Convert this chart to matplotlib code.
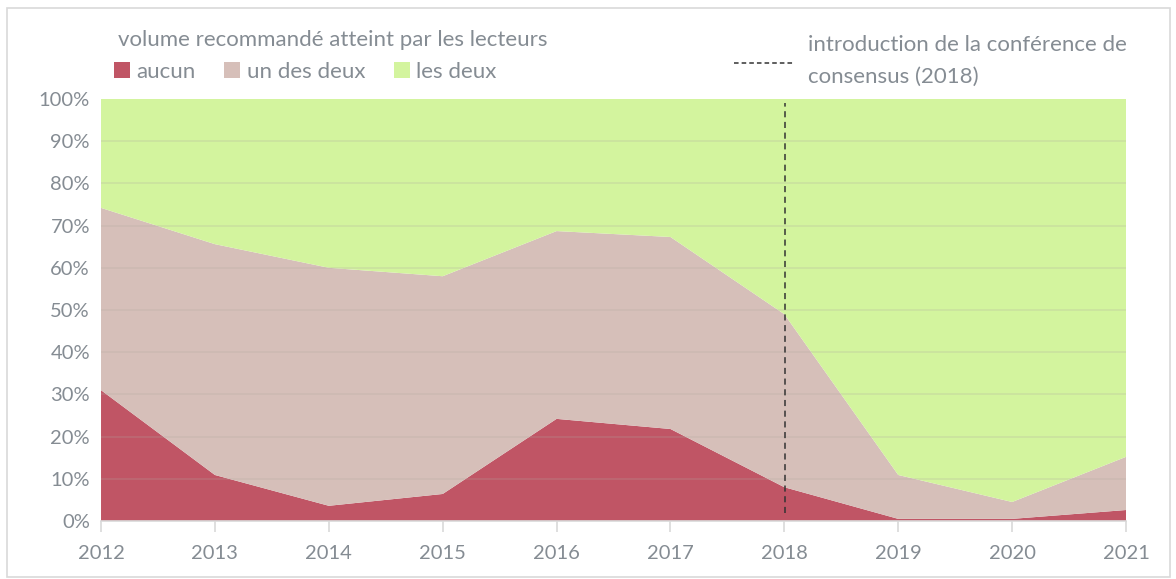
import matplotlib.pyplot as plt
from matplotlib.patches import Rectangle
from matplotlib.lines import Line2D
import numpy as np

# data (shares in %)
years = [2012, 2013, 2014, 2015, 2016, 2017, 2018, 2019, 2020, 2021]
aucun = [31.0, 10.9, 3.6, 6.4, 24.2, 21.8, 8.0, 0.5, 0.5, 2.6]
un_des_deux = [43.2, 54.7, 56.4, 51.6, 44.5, 45.5, 41.0, 10.4, 4.0, 12.6]
les_deux = [100 - a - u for a, u in zip(aucun, un_des_deux)]
conference_year = 2018

grey = '#858c93'
plt.rcParams['font.family'] = ['Lato', 'DejaVu Sans']

fig = plt.figure(figsize=(11.76, 5.79), dpi=100)
ax = fig.add_axes([0.0859, 0.1002, 0.8716, 0.7288])

ax.stackplot(years, aucun, un_des_deux, les_deux,
             colors=['#c05565', '#d6bfb9', '#d3f49e'],
             labels=['aucun', 'un des deux', 'les deux'])

# faint gridlines on top of the fill
for v in range(10, 100, 10):
    ax.axhline(v, color='#b0a8a0', alpha=0.25, lw=1.2, zorder=3)

ax.plot([conference_year + 0.01] * 2, [2, 99], color='#333333',
        lw=1.1, ls=(0, (4, 3)), zorder=4)

ax.set_xlim(2012, 2021)
ax.set_ylim(0, 100)
ax.set_xticks(years)
ax.set_yticks(range(0, 101, 10))
ax.set_yticklabels([f'{v}%' for v in range(0, 101, 10)])
for s in ['top', 'right', 'left']:
    ax.spines[s].set_visible(False)
ax.spines['bottom'].set_color('#d9d9d9')
ax.spines['bottom'].set_linewidth(1.2)
ax.tick_params(axis='x', colors='#d9d9d9', length=8, width=1.2, pad=9,
               labelcolor=grey, labelsize=14.5)
ax.tick_params(axis='y', length=0, pad=8, labelcolor=grey, labelsize=14.5)

# legend
fig.text(0.1, 0.931, 'volume recommandé atteint par les lecteurs',
         color=grey, fontsize=16, va='center')
leg = ax.legend(loc='center left', bbox_to_anchor=(0.097, 0.876),
                bbox_transform=fig.transFigure, ncol=3, frameon=False,
                fontsize=16, handlelength=0.7, handleheight=0.7,
                handletextpad=0.3, columnspacing=1.3, borderaxespad=0,
                borderpad=0)
for t in leg.get_texts():
    t.set_color(grey)

fig.add_artist(Line2D([0.624, 0.676], [0.891, 0.891], color='#333333',
                      lw=1.1, ls=(0, (3, 2))))
fig.text(0.687, 0.922, 'introduction de la conférence de', color=grey,
         fontsize=16, va='center')
fig.text(0.687, 0.868, 'consensus (2018)', color=grey,
         fontsize=16, va='center')

fig.add_artist(Rectangle((0.006, 0.004), 0.989, 0.982, fill=False,
                         edgecolor='#d9d9d9', lw=1.2,
                         transform=fig.transFigure))

fig.savefig('out.png', dpi=100)
